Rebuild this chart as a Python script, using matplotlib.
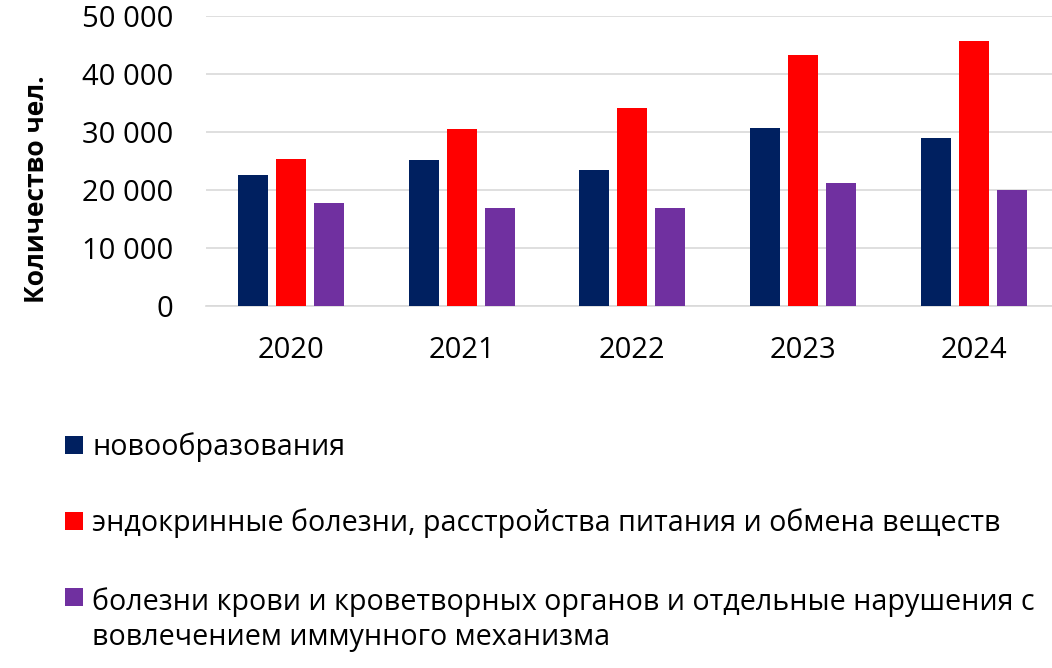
import matplotlib
matplotlib.use("Agg")
import matplotlib.pyplot as plt
from matplotlib.patches import Rectangle
from matplotlib.ticker import FuncFormatter, MultipleLocator
import numpy as np

plt.rcParams['font.family'] = ['Open Sans', 'DejaVu Sans']

years = ["2020", "2021", "2022", "2023", "2024"]
series_names = [
    "новообразования",
    "эндокринные болезни, расстройства питания и обмена веществ",
    "болезни крови и кроветворных органов и отдельные нарушения с\nвовлечением иммунного механизма",
]
neoplasms = [22500, 25100, 23400, 30600, 29000]
endocrine = [25300, 30400, 34100, 43300, 45600]
blood = [17700, 16800, 16900, 21100, 20000]
values = [neoplasms, endocrine, blood]
colors = ["#002060", "#FF0000", "#7030A0"]
y_label = "Количество чел."

W, H = 1052, 668
fig = plt.figure(figsize=(W / 100, H / 100), dpi=100)
ax_l, ax_r, ax_t, ax_b = 205.5, 1059.0, 15.7, 306.0
ax = fig.add_axes([ax_l / W, 1 - ax_b / H, (ax_r - ax_l) / W, (ax_b - ax_t) / H])

x = np.arange(len(years))
bw = 0.1757
step = 0.2226
for i, (vals, col, name) in enumerate(zip(values, colors, series_names)):
    ax.bar(x + (i - 1) * step, vals, width=bw, color=col, label=name, zorder=3)

ax.set_xlim(-0.5, len(years) - 0.5)
ax.set_ylim(0, 50000)
ax.yaxis.set_major_locator(MultipleLocator(10000))
ax.yaxis.set_major_formatter(FuncFormatter(lambda v, p: f"{int(v):,}".replace(",", " ")))
ax.set_xticks(x)
ax.set_xticklabels(years)
ax.grid(axis='y', color='#d9d9d9', linewidth=1.2, zorder=0)
ax.set_axisbelow(True)
for s in ['top', 'right', 'left']:
    ax.spines[s].set_visible(False)
ax.spines['bottom'].set_color('#d9d9d9')
ax.spines['bottom'].set_linewidth(1.2)
ax.tick_params(axis='y', length=0, labelsize=21, pad=23.4, colors='black')
ax.tick_params(axis='x', length=0, labelsize=21, pad=21.5, colors='black')

fig.text(36.5 / W, 1 - 189 / H, y_label, rotation=90, ha='center', va='center',
         fontsize=19, fontweight='bold')

# legend drawn manually (handle aligned with first line of label)
sq_x0, sq_size = 65.0, 17.7
text_x = 92.3
line_step = 38.3
square_bottoms = [454.0, 530.0, 606.0]
for col, name, sb in zip(colors, series_names, square_bottoms):
    fig.patches.append(Rectangle((sq_x0 / W, 1 - sb / H), sq_size / W, sq_size / H,
                                 transform=fig.transFigure, facecolor=col,
                                 edgecolor='none', figure=fig))
    n_extra = name.count("\n")
    fig.text(text_x / W, 1 - (sb + 0.8 + n_extra * line_step) / H, name,
             ha='left', va='baseline', fontsize=20.6, linespacing=1.28)

fig.savefig("out.png", dpi=100)
